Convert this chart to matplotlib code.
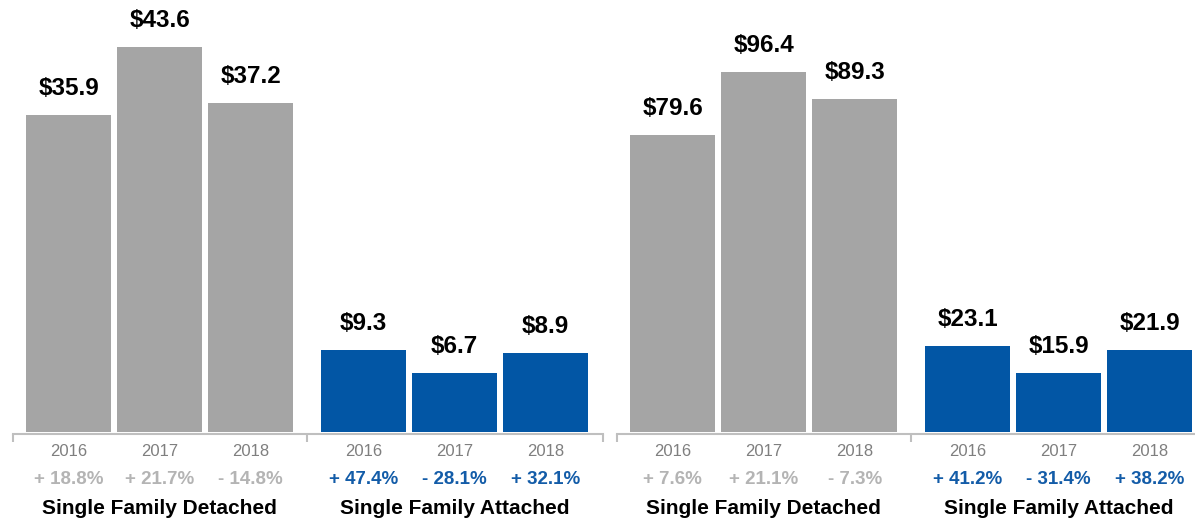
import numpy as np
import matplotlib
matplotlib.use('Agg')
import matplotlib.pyplot as plt

plt.rcParams['font.family'] = ['Liberation Sans', 'DejaVu Sans']

# values (billions), two panels each with detached / attached groups
years = ['2016', '2017', '2018']
groups = ['Single Family Detached', 'Single Family Attached']

left_detached = [35.9, 43.6, 37.2]
left_attached = [9.3, 6.7, 8.9]
left_det_chg = ['+ 18.8%', '+ 21.7%', '- 14.8%']
left_att_chg = ['+ 47.4%', '- 28.1%', '+ 32.1%']

right_detached = [79.6, 96.4, 89.3]
right_attached = [23.1, 15.9, 21.9]
right_det_chg = ['+ 7.6%', '+ 21.1%', '- 7.3%']
right_att_chg = ['+ 41.2%', '- 31.4%', '+ 38.2%']

GRAY = '#a5a5a5'
BLUE = '#0256a5'
AXIS = '#bfbfbf'
YEAR_C = '#7f7f7f'
CHG_GRAY = '#b4b4b4'
CHG_BLUE = '#135ca8'

W, H = 1195, 523
fig = plt.figure(figsize=(W / 100, H / 100), dpi=100)


def draw_panel(left_px, detached, attached, det_chg, att_chg, ymax):
    ax = fig.add_axes([left_px / W, 91 / H, 590 / W, 432 / H])
    ax.set_xlim(-0.61, 5.87)
    ax.set_ylim(0, ymax)

    group_off = 3.24
    x_det = np.arange(3)
    x_att = np.arange(3) + group_off
    ax.bar(x_det, detached, width=0.934, color=GRAY)
    ax.bar(x_att, attached, width=0.934, color=BLUE)

    for xs, vals in ((x_det, detached), (x_att, attached)):
        for x, v in zip(xs, vals):
            ax.annotate(f'${v:.1f}', (x, v), xytext=(0, 15), textcoords='offset pixels',
                        ha='center', va='bottom', fontsize=17.5, fontweight='bold', color='black')

    xt = ax.get_xaxis_transform()
    for xs, chg, ccol, name in ((x_det, det_chg, CHG_GRAY, groups[0]),
                                (x_att, att_chg, CHG_BLUE, groups[1])):
        for x, yr, c in zip(xs, years, chg):
            ax.annotate(yr, (x, 0), xycoords=xt, xytext=(0, -19), textcoords='offset pixels',
                        ha='center', va='center', fontsize=12, color=YEAR_C)
            ax.annotate(c, (x, 0), xycoords=xt, xytext=(0, -47), textcoords='offset pixels',
                        ha='center', va='center', fontsize=13.5, fontweight='bold', color=ccol)
        ax.annotate(name, (xs[1], 0), xycoords=xt, xytext=(0, -76), textcoords='offset pixels',
                    ha='center', va='center', fontsize=15, fontweight='bold', color='black')

    for s in ('top', 'left', 'right'):
        ax.spines[s].set_visible(False)
    ax.spines['bottom'].set_color(AXIS)
    ax.spines['bottom'].set_linewidth(1.5)
    ax.spines['bottom'].set_position(('outward', 1.5))
    ax.set_yticks([])
    ax.set_xticks([-0.61, (2 + group_off) / 2, 5.87])
    ax.tick_params(axis='x', direction='out', length=6, width=1.5, color=AXIS, labelbottom=False)
    ax.patch.set_visible(False)
    return ax


draw_panel(13, left_detached, left_attached, left_det_chg, left_att_chg, 48.9)
draw_panel(617, right_detached, right_attached, right_det_chg, right_att_chg, 115.7)

fig.savefig('out.png', dpi=100, facecolor='white')
